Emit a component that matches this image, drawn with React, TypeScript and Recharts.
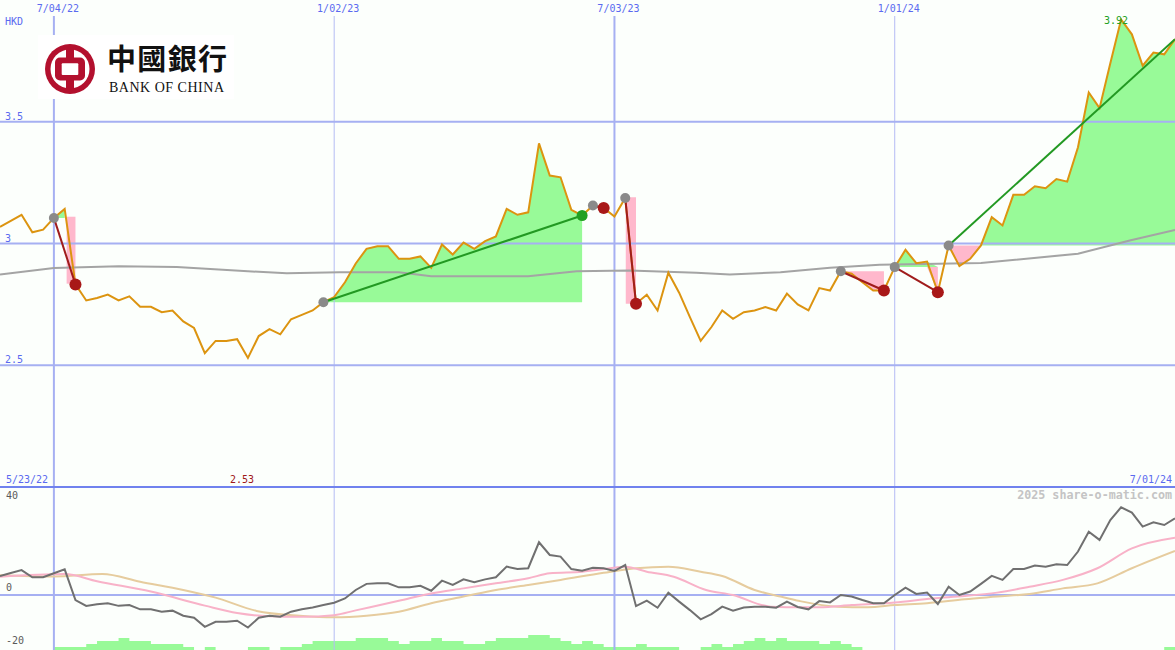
import React from "react";
import {
  ComposedChart,
  Line,
  Area,
  XAxis,
  YAxis,
  ReferenceLine,
  ReferenceDot,
} from "recharts";

// Bank of China (HKD), weekly closes, week 1 = 5/30/22
const price = [
  3.068, 3.093, 3.118, 3.046, 3.057, 3.105, 3.142, 2.832, 2.766, 2.776,
  2.79, 2.766, 2.783, 2.74, 2.74, 2.718, 2.725, 2.68, 2.653, 2.55,
  2.6, 2.6, 2.607, 2.53, 2.62, 2.648, 2.627, 2.689, 2.707, 2.725,
  2.759, 2.78, 2.841, 2.918, 2.978, 2.989, 2.989, 2.937, 2.937, 2.947,
  2.9, 2.996, 2.955, 3.004, 2.978, 3.01, 3.029, 3.142, 3.118, 3.128,
  3.411, 3.279, 3.272, 3.138, 3.115, 3.156, 3.146, 3.111, 3.187, 2.753,
  2.79, 2.725, 2.88, 2.798, 2.698, 2.6, 2.657, 2.725, 2.691, 2.718,
  2.725, 2.739, 2.725, 2.794, 2.75, 2.725, 2.817, 2.807, 2.886, 2.876,
  2.841, 2.807, 2.807, 2.903, 2.974, 2.919, 2.926, 2.8, 2.992, 2.907,
  2.937, 2.992, 3.108, 3.074, 3.2, 3.2, 3.235, 3.227, 3.265, 3.254,
  3.395, 3.62, 3.556, 3.74, 3.92, 3.859, 3.73, 3.784, 3.777, 3.839,
];
const weeks = price.map((_, k) => k + 1);

// long moving average (grey line in the price panel)
const longAvg = [
  { w: 1, v: 2.873 }, { w: 6, v: 2.899 }, { w: 12, v: 2.907 }, { w: 17.4, v: 2.903 },
  { w: 24, v: 2.886 }, { w: 27.6, v: 2.878 }, { w: 32.5, v: 2.882 }, { w: 38, v: 2.882 },
  { w: 41, v: 2.866 }, { w: 50, v: 2.866 }, { w: 54.5, v: 2.886 }, { w: 59.4, v: 2.889 },
  { w: 65.6, v: 2.88 }, { w: 68.7, v: 2.873 }, { w: 73.4, v: 2.882 }, { w: 78, v: 2.9 },
  { w: 82.6, v: 2.913 }, { w: 92, v: 2.92 }, { w: 101, v: 2.958 }, { w: 105.8, v: 3.012 },
  { w: 110, v: 3.056 },
];

// lower panel: momentum (dark grey), fast and slow averages
const momentum = [
  7.2, 8.3, 9.4, 6.7, 6.7, 8.2, 9.7, -1.9, -4.1, -3.5,
  -3.1, -4.1, -3.8, -5.4, -5.4, -6.3, -5.9, -7.8, -8.6, -12,
  -10.1, -10.1, -9.7, -12.3, -8.6, -7.8, -8.2, -6.3, -5.4, -4.7,
  -3.8, -2.9, -1.3, 1.9, 4.2, 4.4, 4.4, 2.9, 2.9, 3.5,
  1.6, 5.4, 3.8, 5.9, 4.8, 5.9, 6.7, 10.7, 9.8, 10.1,
  19.9, 15.1, 14.5, 9.8, 9.2, 10.3, 10.1, 9.1, 11.3, -4.2,
  -2.1, -4.8, 0.9, -2.5, -5.7, -9.2, -7.2, -4.4, -5.9, -4.7,
  -4.4, -4.4, -4.8, -2.5, -4.5, -5.4, -2.3, -2.8, 0, -0.6,
  -1.9, -3.1, -3.1, 0, 2.8, 0.4, 0.9, -3.4, 3.1, 0,
  1.3, 4.2, 7.2, 5.7, 9.8, 9.8, 11.1, 10.7, 11.6, 11.3,
  16.4, 23.9, 20.8, 28.3, 33.1, 31.1, 25.8, 27.4, 26.4, 28.9,
];
const fastAvg = [
  { w: 1, v: 6.9 }, { w: 7, v: 7.9 }, { w: 10, v: 5.2 }, { w: 15, v: 1.3 },
  { w: 20, v: -4 }, { w: 23, v: -6.8 }, { w: 26, v: -8 }, { w: 29, v: -8.2 },
  { w: 32, v: -7.6 }, { w: 34, v: -5.8 }, { w: 38, v: -2.2 }, { w: 41, v: 0.6 },
  { w: 44, v: 2.5 }, { w: 47, v: 4.4 }, { w: 50, v: 6.3 }, { w: 52, v: 8.2 },
  { w: 55, v: 8.8 }, { w: 58, v: 10.3 }, { w: 59, v: 10.7 }, { w: 61, v: 8.8 },
  { w: 63.5, v: 6.9 }, { w: 66.5, v: 1.9 }, { w: 69, v: 0 }, { w: 72.5, v: -4.4 },
  { w: 75.5, v: -4.6 }, { w: 77, v: -4.6 }, { w: 80, v: -3.8 }, { w: 84, v: -2.8 },
  { w: 87.5, v: -1.3 }, { w: 90.5, v: -0.4 }, { w: 93.5, v: 0.9 }, { w: 96.5, v: 3.1 },
  { w: 99.6, v: 5.7 }, { w: 102.8, v: 10.1 }, { w: 106, v: 17.6 }, { w: 110, v: 21.6 },
];
const slowAvg = [
  { w: 1, v: 7.5 }, { w: 6, v: 7 }, { w: 10.5, v: 7.9 }, { w: 14, v: 5 },
  { w: 18, v: 1.9 }, { w: 21, v: -1 }, { w: 24.8, v: -6 }, { w: 28.8, v: -7.8 },
  { w: 32, v: -8.4 }, { w: 35, v: -7.8 }, { w: 38, v: -6.3 }, { w: 41, v: -3.1 },
  { w: 44, v: -0.6 }, { w: 47, v: 1.9 }, { w: 50, v: 3.8 }, { w: 53, v: 5.7 },
  { w: 57, v: 8.4 }, { w: 60, v: 10.1 }, { w: 63, v: 10.7 }, { w: 66, v: 8.8 },
  { w: 68, v: 7.2 }, { w: 71, v: 1.9 }, { w: 73.4, v: -0.6 }, { w: 75.2, v: -2.3 },
  { w: 78.7, v: -4.4 }, { w: 81.5, v: -4.6 }, { w: 84, v: -3.8 }, { w: 87, v: -3.1 },
  { w: 90.5, v: -1.6 }, { w: 93.5, v: -0.6 }, { w: 96.5, v: 0.4 }, { w: 99.6, v: 2.5 },
  { w: 102.8, v: 4.4 }, { w: 106, v: 10.1 }, { w: 110, v: 16.6 },
];

// green blocks along the bottom, in steps
const volLevels = [
  0, 0, 0, 0, 0, 1, 1, 1, 2, 3,
  3, 4, 3, 3, 2, 2, 2, 1, 0, 1,
  0, 0, 0, 1, 1, 0, 1, 1, 2, 3,
  3, 3, 3, 4, 4, 4, 3, 2, 3, 3,
  4, 3, 3, 2, 2, 3, 4, 4, 4, 5,
  5, 4, 3, 2, 3, 2, 1, 1, 1, 2,
  1, 1, 1, 0, 0, 1, 2, 1, 2, 3,
  4, 3, 4, 3, 3, 3, 2, 3, 2, 1,
  0, 0, 0, 0, 0, 0, 0, 0, 0, 0,
  0, 0, 0, 0, 0, 0, 0, 0, 0, 0,
  0, 0, 0, 0, 0, 0, 0, 0, 1, 1,
];

const dateTicks = [
  { w: 6, label: "7/04/22", major: true },
  { w: 32, label: "1/02/23", major: false },
  { w: 58, label: "7/03/23", major: true },
  { w: 84, label: "1/01/24", major: false },
];
const priceTicks = [3.5, 3, 2.5];
const oscTicks = [40, 0, -20];

// trend signals: start week, end week, winner or not
const signals = [
  { from: 6, to: 8, up: false, fillTo: 7 },
  { from: 31, to: 55, up: true },
  { from: 56, to: 57, up: false },
  { from: 59, to: 60, up: false, fillTo: 59 },
  { from: 79, to: 83, up: false },
  { from: 84, to: 88, up: false },
  { from: 89, to: 110, up: true, open: true },
];
// ex-dividend drops show as full blocks
const dropFills = [
  [{ w: 7.18, r: [2.835, 3.11] }, { w: 8, r: [2.835, 3.11] }],
  [{ w: 59.05, r: [2.753, 3.19] }, { w: 60, r: [2.753, 3.19] }],
];

const W = 1175;
const H = 650;
const PX = 243.5; // px per HKD
const MPX = 2.65; // px per osc unit
const ZERO_Y = 595;

const BG = "#fcfffc";
const GRID = "#a6b0f2";
const DIVIDER = "#7082ee";
const BLUE = "#5a6af0";
const ORANGE = "#dc9410";
const GAIN = "#98fa98";
const LOSS = "#ffb8cc";
const mono = "'DejaVu Sans Mono', monospace";

const at = (w: number) => price[w - 1];

export default function App() {
  const rows = weeks.map((w, k) => ({ w, price: price[k], osc: momentum[k], vol: volLevels[k] }));
  const minP = Math.min(...price);
  const maxP = Math.max(...price);
  const minW = weeks[price.indexOf(minP)];
  const maxW = weeks[price.indexOf(maxP)];

  const fills = signals.map((s) => {
    const b = at(s.from);
    const end = s.fillTo ?? s.to;
    const seg = weeks.filter((w) => w >= s.from && w <= end);
    return {
      gain: seg.map((w) => ({ w, r: [b, Math.max(at(w), b)] })),
      loss: seg.map((w) => ({ w, r: [Math.min(at(w), b), b] })),
    };
  });

  const pTop = 4;
  const pBottom = 4 - H / PX;
  const vTop = 4 - 16 / PX;

  const flat = { fillOpacity: 1, stroke: "none", activeDot: false, isAnimationActive: false } as const;

  return (
    <div style={{ position: "absolute", left: 0, top: 0, width: W, height: H, background: BG }}>
      <ComposedChart width={W} height={H} data={rows} margin={{ top: 0, right: 0, bottom: 0, left: 0 }}>
        <XAxis type="number" dataKey="w" domain={[1, 110]} hide allowDataOverflow />
        <YAxis yAxisId="p" domain={[pBottom, pTop]} hide allowDataOverflow />
        <YAxis yAxisId="m" domain={[-(H - ZERO_Y) / MPX, ZERO_Y / MPX]} hide allowDataOverflow />
        <YAxis yAxisId="v" domain={[0, H / 3.02]} hide allowDataOverflow />

        <Area yAxisId="v" dataKey="vol" type="stepAfter" fill={GAIN} {...flat} />

        {fills.map((f, k) => (
          <Area key={`g${k}`} yAxisId="p" data={f.gain} dataKey="r" type="linear" fill={GAIN} {...flat} />
        ))}
        {fills.map((f, k) => (
          <Area key={`l${k}`} yAxisId="p" data={f.loss} dataKey="r" type="linear" fill={LOSS} {...flat} />
        ))}
        {dropFills.map((d, k) => (
          <Area key={`d${k}`} yAxisId="p" data={d} dataKey="r" type="linear" fill={LOSS} {...flat} />
        ))}

        {dateTicks.map((t) => (
          <ReferenceLine
            key={t.label}
            yAxisId="p"
            segment={[{ x: t.w, y: vTop }, { x: t.w, y: pBottom }]}
            stroke={t.major ? GRID : "#b4bcf4"}
            strokeWidth={t.major ? 2 : 1}
            label={(props: any) => (
              <text
                x={props.viewBox.x + 4}
                y={props.viewBox.y - 4}
                textAnchor="middle"
                fill={BLUE}
                fontFamily={mono}
                fontSize={10}
              >
                {t.label}
              </text>
            )}
          />
        ))}
        {priceTicks.map((v) => (
          <ReferenceLine
            key={v}
            yAxisId="p"
            y={v}
            stroke={GRID}
            strokeWidth={2}
            label={(props: any) => (
              <text x={5} y={props.viewBox.y - 2} fill={BLUE} fontFamily={mono} fontSize={10}>
                {String(v)}
              </text>
            )}
          />
        ))}
        <ReferenceLine yAxisId="m" y={0} stroke={GRID} strokeWidth={2} />
        <ReferenceLine
          yAxisId="p"
          y={2}
          stroke={DIVIDER}
          strokeWidth={2}
          label={(props: any) => (
            <g fontFamily={mono} fontSize={10} fill={BLUE}>
              <text x={6} y={props.viewBox.y - 4}>5/23/22</text>
              <text x={W - 3} y={props.viewBox.y - 4} textAnchor="end">7/01/24</text>
            </g>
          )}
        />
        {oscTicks.map((v) => (
          <ReferenceDot
            key={`o${v}`}
            yAxisId="m"
            x={1}
            y={v}
            r={1}
            fill="none"
            stroke="none"
            label={(props: any) => (
              <text
                x={6}
                y={props.viewBox.y + (v === 40 ? 11 : -3)}
                fill="#5a5a5a"
                fontFamily={mono}
                fontSize={10}
              >
                {String(v)}
              </text>
            )}
          />
        ))}

        <Line yAxisId="p" data={longAvg} dataKey="v" type="linear" stroke="#a4a4a4" strokeWidth={2} dot={false} activeDot={false} isAnimationActive={false} />

        <Line yAxisId="m" data={slowAvg} dataKey="v" type="monotone" stroke="#e6cc9e" strokeWidth={2} dot={false} activeDot={false} isAnimationActive={false} />
        <Line yAxisId="m" data={fastAvg} dataKey="v" type="monotone" stroke="#f8b2c8" strokeWidth={2} dot={false} activeDot={false} isAnimationActive={false} />
        <Line yAxisId="m" dataKey="osc" type="linear" stroke="#707070" strokeWidth={2} dot={false} activeDot={false} isAnimationActive={false} />

        <Line yAxisId="p" dataKey="price" type="linear" stroke={ORANGE} strokeWidth={2} dot={false} activeDot={false} isAnimationActive={false} />

        {signals.map((s, k) => (
          <Line
            key={`s${k}`}
            yAxisId="p"
            data={[{ w: s.from, v: at(s.from) }, { w: s.to, v: at(s.to) }]}
            dataKey="v"
            type="linear"
            stroke={s.up ? "#229922" : "#a01c1c"}
            strokeWidth={2}
            dot={false}
            activeDot={false}
            isAnimationActive={false}
          />
        ))}
        {signals.map((s, k) => (
          <ReferenceDot key={`a${k}`} yAxisId="p" x={s.from} y={at(s.from)} r={5} fill="#8a8a8a" stroke="none" />
        ))}
        {signals
          .filter((s) => !s.open)
          .map((s, k) => (
            <ReferenceDot
              key={`b${k}`}
              yAxisId="p"
              x={s.to}
              y={at(s.to)}
              r={s.up ? 5.5 : 6}
              fill={s.up ? "#22a022" : "#a81818"}
              stroke="none"
            />
          ))}

        <ReferenceDot
          yAxisId="p"
          x={maxW}
          y={maxP}
          r={1}
          fill="none"
          stroke="none"
          label={(props: any) => (
            <text x={props.viewBox.x - 4} y={props.viewBox.y + 6} textAnchor="middle" fill="#22a022" fontFamily={mono} fontSize={10}>
              {maxP.toFixed(2)}
            </text>
          )}
        />
        <ReferenceDot
          yAxisId="p"
          x={minW}
          y={2}
          r={1}
          fill="none"
          stroke="none"
          label={(props: any) => (
            <text x={props.viewBox.x - 5} y={props.viewBox.y - 3} textAnchor="middle" fill="#a01818" fontFamily={mono} fontSize={10}>
              {minP.toFixed(2)}
            </text>
          )}
        />
        <ReferenceDot
          yAxisId="p"
          x={1}
          y={4}
          r={1}
          fill="none"
          stroke="none"
          label={(props: any) => (
            <text x={5} y={props.viewBox.y + 26} fill={BLUE} fontFamily={mono} fontSize={10}>
              HKD
            </text>
          )}
        />
        <ReferenceDot
          yAxisId="m"
          x={110}
          y={40}
          r={1}
          fill="none"
          stroke="none"
          label={(props: any) => (
            <text x={W - 3} y={props.viewBox.y + 11} textAnchor="end" fill="#c4c4c4" fontFamily={mono} fontWeight="bold" fontSize={11.7}>
              2025 share-o-matic.com
            </text>
          )}
        />
      </ComposedChart>

      <svg width={W} height={H} style={{ position: "absolute", left: 0, top: 0, pointerEvents: "none" }}>
        <rect x={38} y={35} width={196} height={64} fill="#ffffff" />
        <circle cx={70} cy={69} r={25} fill="#b3102e" />
        <circle cx={70} cy={69} r={19.5} fill="#ffffff" />
        <rect x={66} y={45} width={8} height={48} fill="#b3102e" />
        <rect x={55} y={57.5} width={30} height={23} rx={5} fill="#b3102e" />
        <rect x={61.7} y={63.3} width={16.6} height={11.7} rx={1} fill="#ffffff" />
        <text x={107} y={70} fontFamily="'Noto Sans CJK TC'" fontWeight="bold" fontSize={29} fill="#111" textLength={120}>
          中國銀行
        </text>
        <text x={109} y={92} fontFamily="'Liberation Serif', serif" fontSize={14} fill="#111" textLength={115}>
          BANK OF CHINA
        </text>
      </svg>
    </div>
  );
}
